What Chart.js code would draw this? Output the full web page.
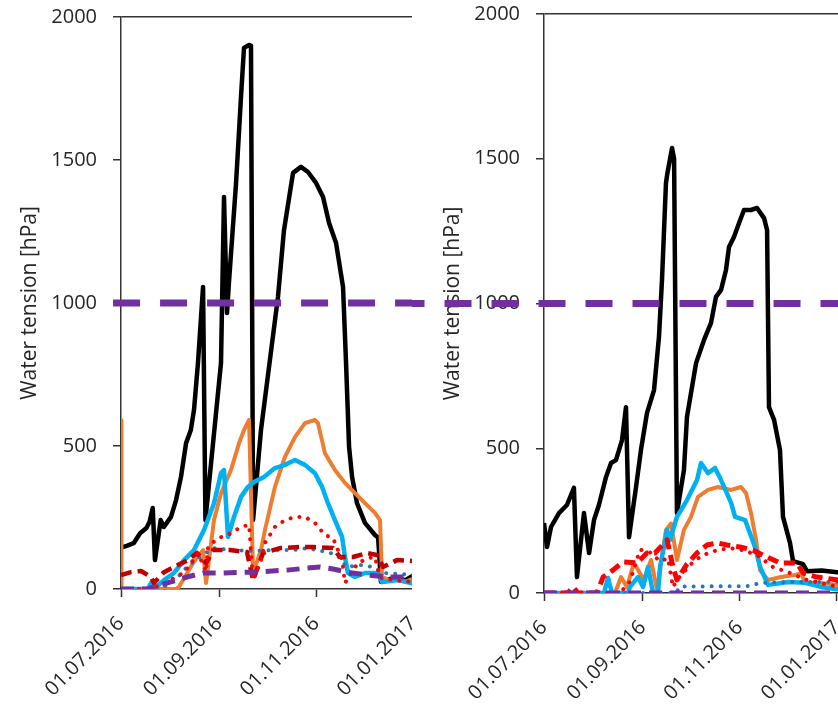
<!DOCTYPE html>
<html>
<head>
<meta charset="utf-8">
<title>Water tension</title>
<script src="https://cdn.jsdelivr.net/npm/chart.js@4.4.1/dist/chart.umd.min.js"></script>
<style>
  html, body { margin: 0; padding: 0; background: #fff; overflow: hidden; }
  .panel { position: absolute; top: 0; height: 704px; overflow: hidden; }
  #left { left: 0; width: 412px; }
  #right { left: 412px; width: 426px; }
  canvas { display: block; }
</style>
</head>
<body>
<div class="panel" id="left"><canvas id="chart-left" width="440" height="704"></canvas></div>
<div class="panel" id="right"><canvas id="chart-right" width="460" height="704"></canvas></div>
<script>
// x = days since 01.07.2016, y = water tension [hPa]
const xTickDays = [0, 62, 123, 184];
const xTickLabels = ["01.07.2016", "01.09.2016", "01.11.2016", "01.01.2017"];
const yTicks = [0, 500, 1000, 1500, 2000];
const limitLine = 1000;

// left panel
const leftBlack = [[0,145],[4,152],[8,160],[12,195],[16,213],[18,235],[20,283],[21.4,101],[25,241],[27,217],[31.5,252],[34.7,311],[37.8,392],[41,510],[44,556],[46,626],[48.5,790],[51.7,1056],[53.2,241],[63,790],[64.9,1371],[66.8,965],[68,1070],[72.5,1420],[75.6,1720],[77.5,1892],[80.7,1902],[81.9,1900],[83.2,241],[88.2,556],[98.9,1021],[102.7,1255],[108.4,1455],[113.4,1476],[117.8,1458],[122.9,1420],[127.3,1371],[131.1,1280],[135.5,1210],[139.9,1056],[141.8,790],[143.7,497],[145.6,392],[148.7,300],[153.7,231],[160,189],[162,180],[163.8,25],[169.5,35],[174.5,40],[179,30],[183.4,45],[190,45]];
const leftOrange = [[0,590],[0.3,0],[34.7,0],[36.5,7],[45.4,91],[51.7,136],[53.6,21],[58.6,241],[63,335],[69.3,416],[74.4,510],[77.5,556],[80.7,591],[83.2,56],[88.2,136],[90.7,206],[97,357],[103.3,462],[109.6,531],[115.9,580],[122.2,591],[124.1,580],[128.5,475],[134.8,416],[141.1,371],[147.4,335],[153.7,300],[160,266],[163.2,241],[164.5,42],[169.5,30],[174.5,40],[179,25],[183.4,35],[190,30]];
const leftBlue = [[0,0],[17,0],[18.9,21],[20.8,0],[27.1,31],[33.4,56],[39.7,101],[46,136],[52.3,206],[58.6,300],[63,405],[64.9,416],[67.4,182],[71.2,252],[75.6,322],[80,357],[83.8,374],[90.1,392],[97,423],[103.3,434],[109.6,451],[115.9,434],[122.2,405],[126.7,357],[130.4,300],[134.8,241],[139.3,182],[141.1,112],[143,56],[147.4,42],[153.7,56],[162,56],[164.5,24],[174.5,31],[183.4,20],[190,25]];
const leftRedDot = [[0,0],[18,0],[27.7,20],[40.3,60],[48.5,126],[53.6,60],[54.8,147],[61.1,178],[67.4,189],[75.6,217],[80.7,224],[83.2,31],[88.2,101],[90.7,161],[97,217],[103.3,241],[109.6,252],[115.9,252],[122.2,231],[128.5,189],[133.6,178],[139.3,101],[141.1,21],[149.3,91],[155.6,108],[160,112],[163.2,40],[172.6,30],[183.4,25],[190,25]];
const leftDarkRedDash = [[0,49],[6.3,59],[12.6,63],[18.9,42],[20.8,21],[27.1,59],[33.4,77],[42.2,101],[47.9,126],[53.6,90],[58,136],[68.7,136],[79.4,129],[83.2,31],[89.5,126],[100.2,143],[112.8,147],[121,147],[133.6,143],[138,112],[146.2,112],[155,126],[161.3,119],[165.1,77],[173.9,101],[183.4,98],[190,100]];
const leftBlueDot = [[0,0],[24.6,0],[34,30],[41.6,77],[49.8,112],[58,143],[68.7,136],[83.2,133],[95.8,136],[108.4,136],[117.2,143],[129.8,129],[136.1,119],[142.4,77],[150.6,84],[158.8,77],[165.1,56],[183.4,50],[190,50]];
const leftPurpleDash = [[0,0],[17,0],[20.2,7],[30.9,24],[41.6,42],[51.7,56],[62.4,56],[83.2,59],[104.6,66],[117.2,73],[125.4,77],[133.6,70],[142.4,59],[155,49],[167.6,42],[190,42]];

// right panel
const rightBlack = [[0,242],[1.9,159],[4.4,228],[9.4,276],[14.4,304],[18.8,363],[20.7,55],[25.1,276],[28.3,138],[31.4,252],[34.5,304],[38.9,400],[42.1,449],[45.2,459],[49,528],[51.5,642],[53.4,193],[57.8,366],[60.9,494],[64.7,622],[69.1,701],[72.2,884],[74.1,1081],[76.6,1416],[77.5,1450],[80.4,1537],[81.7,1500],[83.5,276],[87.9,425],[89.8,608],[95.5,794],[100.5,874],[104.9,933],[108,1023],[111.2,1047],[114.3,1116],[116.2,1195],[119.3,1230],[122.5,1278],[125.6,1323],[130,1323],[133.8,1330],[138.2,1295],[140.1,1254],[141.3,642],[144.5,598],[148.2,494],[150.1,263],[154.5,173],[156.4,110],[162.7,100],[165.2,75],[174.4,78],[184,72],[190,72]];
const rightBlue = [[0,0],[37.7,0],[40.2,52],[42.7,0],[52.8,0],[54,21],[59,55],[62.2,21],[65.3,90],[68.5,0],[71.6,0],[72.9,90],[77.3,218],[79.1,183],[83.5,263],[89.8,321],[96.1,390],[98.6,449],[103,414],[107.4,432],[111.2,390],[117.5,311],[120,263],[126.3,252],[132.5,159],[135.7,90],[140.7,28],[153.3,38],[163.9,35],[174,21],[184.7,12],[190,12]];
const rightOrange = [[0,0],[44.6,0],[48.4,55],[52.1,21],[56.5,104],[62.8,45],[67.2,114],[71,10],[76.6,218],[79.8,240],[83.5,114],[87.9,218],[92.3,263],[96.7,332],[103,356],[109.3,366],[117.5,356],[123.7,366],[126.9,345],[130,276],[133.2,183],[135.7,79],[140.7,45],[148.9,55],[157.7,62],[161.4,69],[163.9,35],[174,35],[184.7,28],[190,28]];
const rightRedDash = [[0,0],[15.1,0],[18.2,21],[21.4,0],[33.3,0],[37.1,55],[43.3,79],[49.6,107],[58.4,104],[64.7,138],[69.7,138],[77.3,183],[81,90],[83.5,45],[89.8,100],[96.1,138],[102.4,166],[108.7,173],[114.9,166],[123.1,159],[131.3,148],[140.1,124],[148.2,104],[158.9,104],[162.7,69],[171.5,55],[184.7,45],[190,45]];
const rightRedDot = [[0,0],[47.7,0],[54,40],[60.3,150],[66.6,140],[72.9,110],[77.9,120],[81,20],[83.5,45],[87.3,69],[93.6,107],[99.9,131],[108.7,148],[116.8,155],[125,148],[133.8,131],[143.8,90],[154.5,69],[165.2,45],[173.4,35],[184.7,21],[190,21]];
const rightBlueDot = [[0,0],[82.9,0],[85.4,22],[129.4,24],[135.7,35],[154.5,38],[184.7,38],[190,38]];
const rightPurpleDash = [[0,0],[190,0]];

Chart.defaults.font.family = "'Open Sans', sans-serif";

const TEXT = "#262626";
const AXIS = "#333333";

function toPoints(pairs) {
    return pairs.map(p => ({ x: p[0], y: p[1] }));
}

function lineSet(pairs, color, width, dash, dotted, order) {
    return {
        data: toPoints(pairs),
        borderColor: color,
        borderWidth: width,
        borderDash: dash,
        borderCapStyle: dotted ? "round" : "butt",
        borderJoinStyle: "round",
        pointRadius: 0,
        tension: 0,
        fill: false,
        order: order,
    };
}

function makeChart(id, datasets, lay) {
    // 1000 hPa limit, runs past both ends of the plot
    datasets.push({
        data: [{ x: lay.limitFrom, y: limitLine }, { x: 320, y: limitLine }],
        borderColor: "#7030A0",
        borderWidth: 7,
        borderDash: [27, 20],
        pointRadius: 0,
        clip: false,
        order: 0,
    });

    return new Chart(document.getElementById(id), {
        type: "line",
        data: { datasets: datasets },
        options: {
            responsive: false,
            animation: false,
            layout: { padding: { top: lay.top, left: 0, right: 0, bottom: 0 } },
            plugins: { legend: { display: false }, tooltip: { enabled: false } },
            scales: {
                x: {
                    type: "linear",
                    min: 0,
                    max: lay.xMax,
                    afterBuildTicks: s => { s.ticks = xTickDays.map(v => ({ value: v })); },
                    afterFit: s => { s.height = lay.xHeight; s.paddingLeft = 0; s.paddingRight = 0; },
                    ticks: {
                        autoSkip: false,
                        minRotation: 45,
                        maxRotation: 45,
                        padding: 15,
                        color: TEXT,
                        font: { size: 20 },
                        callback: (v, i) => xTickLabels[i],
                    },
                    grid: { drawOnChartArea: false, tickLength: 8, tickColor: AXIS, tickWidth: 1.5 },
                    border: { color: AXIS, width: 1.5 },
                },
                y: {
                    min: 0,
                    max: 2000,
                    afterBuildTicks: s => { s.ticks = yTicks.map(v => ({ value: v })); },
                    afterFit: s => { s.width = lay.yWidth; s.paddingTop = 0; s.paddingBottom = 0; },
                    ticks: { padding: 16, color: TEXT, font: { size: 20 }, callback: v => String(v) },
                    grid: {
                        color: c => (c.index === yTicks.length - 1 ? AXIS : "rgba(0,0,0,0)"),
                        lineWidth: 1.5,
                        tickLength: 8,
                        tickColor: AXIS,
                        tickWidth: 1.5,
                    },
                    border: { color: AXIS, width: 1.5 },
                    title: {
                        display: true,
                        text: "Water tension [hPa]",
                        color: TEXT,
                        font: { size: 21 },
                        padding: { top: lay.titlePad, bottom: 0 },
                    },
                },
            },
        },
    });
}

makeChart("chart-left", [
    lineSet(leftBlack, "#000000", 4.5, [], false, 7),
    lineSet(leftOrange, "#ED7D31", 4, [], false, 6),
    lineSet(leftBlue, "#00B0F0", 4.5, [], false, 5),
    lineSet(leftBlueDot, "#2E75B6", 4, [0.01, 9], true, 4),
    lineSet(leftDarkRedDash, "#C00000", 4.5, [11, 6], false, 3),
    lineSet(leftRedDot, "#FF0000", 4, [0.01, 9], true, 2),
    lineSet(leftPurpleDash, "#7030A0", 5, [13, 8], false, 1),
], { top: 17, xHeight: 115, yWidth: 121, xMax: 201, titlePad: 17, limitFrom: -5 });

makeChart("chart-right", [
    lineSet(rightBlack, "#000000", 4.5, [], false, 7),
    lineSet(rightOrange, "#ED7D31", 4, [], false, 6),
    lineSet(rightBlue, "#00B0F0", 4.5, [], false, 5),
    lineSet(rightBlueDot, "#2E75B6", 4, [0.01, 9], true, 4),
    lineSet(rightRedDash, "#FF0000", 5, [11, 6], false, 3),
    lineSet(rightRedDot, "#FF0000", 4, [0.01, 9], true, 2),
    lineSet(rightPurpleDash, "#7030A0", 5, [13, 8], false, 1),
], { top: 14, xHeight: 111, yWidth: 132, xMax: 206, titlePad: 28, limitFrom: -92 });
</script>
</body>
</html>
